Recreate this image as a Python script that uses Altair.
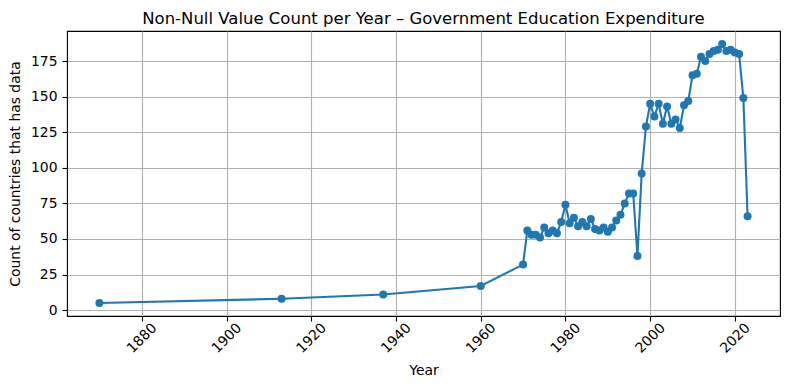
import altair as alt
import pandas as pd

years = [1870, 1913, 1937, 1960,
         1970, 1971, 1972, 1973, 1974, 1975, 1976, 1977, 1978, 1979,
         1980, 1981, 1982, 1983, 1984, 1985, 1986, 1987, 1988, 1989,
         1990, 1991, 1992, 1993, 1994, 1995, 1996, 1997, 1998, 1999,
         2000, 2001, 2002, 2003, 2004, 2005, 2006, 2007, 2008, 2009,
         2010, 2011, 2012, 2013, 2014, 2015, 2016, 2017, 2018, 2019,
         2020, 2021, 2022, 2023]
counts = [5, 8, 11, 17,
          32, 56, 53, 53, 51, 58, 54, 56, 54, 62,
          74, 61, 65, 59, 62, 59, 64, 57, 56, 58,
          55, 58, 63, 67, 75, 82, 82, 38, 96, 129,
          145, 136, 145, 131, 143, 131, 134, 128, 144, 147,
          165, 166, 178, 175, 180, 182, 183, 187, 182, 183,
          181, 180, 149, 66]

x_ticks = [1880, 1900, 1920, 1940, 1960, 1980, 2000, 2020]
y_ticks = [0, 25, 50, 75, 100, 125, 150, 175]

df = pd.DataFrame({"Year": years, "Count": counts})

color = "#1f77b4"
font = "DejaVu Sans"

x_enc = alt.X("Year:Q",
              scale=alt.Scale(domain=[1862.35, 2030.65], nice=False, zero=False),
              axis=alt.Axis(values=x_ticks, format="d", title="Year",
                            labelAngle=-45, labelAlign="center", labelBaseline="middle",
                            labelPadding=17, titlePadding=8))
y_enc = alt.Y("Count:Q",
              scale=alt.Scale(domain=[-4.1, 196.1], nice=False, zero=False),
              axis=alt.Axis(values=y_ticks, title="Count of countries that has data",
                            titlePadding=8))

base = alt.Chart(df)
line = base.mark_line(color=color, strokeWidth=2.1).encode(x=x_enc, y=y_enc)
pts = base.mark_point(filled=True, shape="circle", size=64, color=color, opacity=1).encode(x=x_enc, y=y_enc)

chart = (line + pts).properties(
    width=713, height=285,
    title=alt.Title("Non-Null Value Count per Year – Government Education Expenditure",
                    fontSize=16.5, font=font, fontWeight="normal", color="black",
                    anchor="middle", offset=4),
    padding={"left": 59, "top": 23, "right": 2, "bottom": 66},
    autosize="none",
).configure_view(
    stroke="black", strokeWidth=1.1
).configure_axis(
    grid=True, gridColor="#b0b0b0", gridWidth=1.1, gridOpacity=1,
    domain=False,
    tickColor="black", tickSize=5, tickWidth=1.1,
    labelFont=font, labelFontSize=13.9, labelColor="black",
    titleFont=font, titleFontSize=13.9, titleColor="black", titleFontWeight="normal",
    labelPadding=5,
)

chart.save("out.html", embed_options={"renderer": "svg", "actions": False})
